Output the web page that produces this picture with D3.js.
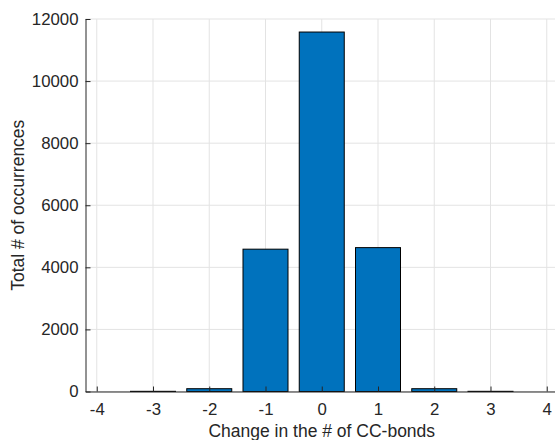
<!DOCTYPE html>
<html>
<head>
<meta charset="utf-8">
<script src="https://cdn.jsdelivr.net/npm/d3@7"></script>
<style>
  body { margin: 0; background: #fff; }
  svg text { font-family: "Liberation Sans", Arial, Helvetica, sans-serif; fill: #262626; }
</style>
</head>
<body>
<div id="chart"></div>
<script>
// change in number of CC-bonds vs count
const changes = [-4, -3, -2, -1, 0, 1, 2, 3, 4];
const counts = [0, 6, 90, 4585, 11580, 4635, 90, 6, 0];
const yTicks = [0, 2000, 4000, 6000, 8000, 10000, 12000];
const xTicks = [-4, -3, -2, -1, 0, 1, 2, 3, 4];

const W = 555, H = 440;
const margin = { top: 19, right: -3, bottom: 48.5, left: 85.5 };
const width = W - margin.left - margin.right;
const height = H - margin.top - margin.bottom;

const svg = d3.select("#chart").append("svg")
    .attr("width", W)
    .attr("height", H);

const g = svg.append("g")
    .attr("transform", `translate(${margin.left},${margin.top})`);

const x = d3.scaleLinear().domain([-4.2, 4.2]).range([0, width]);
const y = d3.scaleLinear().domain([0, 12000]).range([height, 0]);

const gridColor = "#e3e3e3";

// grid
g.append("g").selectAll("line")
    .data(xTicks)
    .join("line")
    .attr("x1", d => x(d)).attr("x2", d => x(d))
    .attr("y1", 0).attr("y2", height)
    .attr("stroke", gridColor);

g.append("g").selectAll("line")
    .data(yTicks)
    .join("line")
    .attr("x1", 0).attr("x2", width)
    .attr("y1", d => y(d)).attr("y2", d => y(d))
    .attr("stroke", gridColor);

// bars
const bw = 0.8;
g.append("g").selectAll("rect")
    .data(changes.map((c, i) => ({ c, v: counts[i] })).filter(d => d.v > 0))
    .join("rect")
    .attr("x", d => x(d.c - bw / 2))
    .attr("width", d => x(d.c + bw / 2) - x(d.c - bw / 2))
    .attr("y", d => y(d.v))
    .attr("height", d => y(0) - y(d.v))
    .attr("fill", "#0072bd")
    .attr("stroke", "#000")
    .attr("stroke-width", 1);

// axes
const fmt = d => String(d);
const xAxis = g.append("g")
    .attr("transform", `translate(0,${height})`)
    .call(d3.axisBottom(x).tickValues(xTicks).tickFormat(fmt).tickSizeInner(-5).tickSizeOuter(0).tickPadding(12));

const yAxis = g.append("g")
    .call(d3.axisLeft(y).tickValues(yTicks).tickFormat(fmt).tickSizeInner(-5).tickSizeOuter(0).tickPadding(7));

[xAxis, yAxis].forEach(a => {
    a.select(".domain").attr("stroke", "#262626");
    a.selectAll(".tick line").attr("stroke", "#262626");
    a.selectAll(".tick text")
        .style("font-size", "16.8px")
        .attr("fill", "#262626");
});

// axis titles
svg.append("text")
    .attr("x", margin.left + x(0))
    .attr("y", 437)
    .attr("text-anchor", "middle")
    .style("font-size", "17.5px")
    .text("Change in the # of CC-bonds");

svg.append("text")
    .attr("transform", `translate(23.5,${margin.top + height / 2}) rotate(-90)`)
    .attr("text-anchor", "middle")
    .style("font-size", "17.5px")
    .text("Total # of occurrences");
</script>
</body>
</html>
